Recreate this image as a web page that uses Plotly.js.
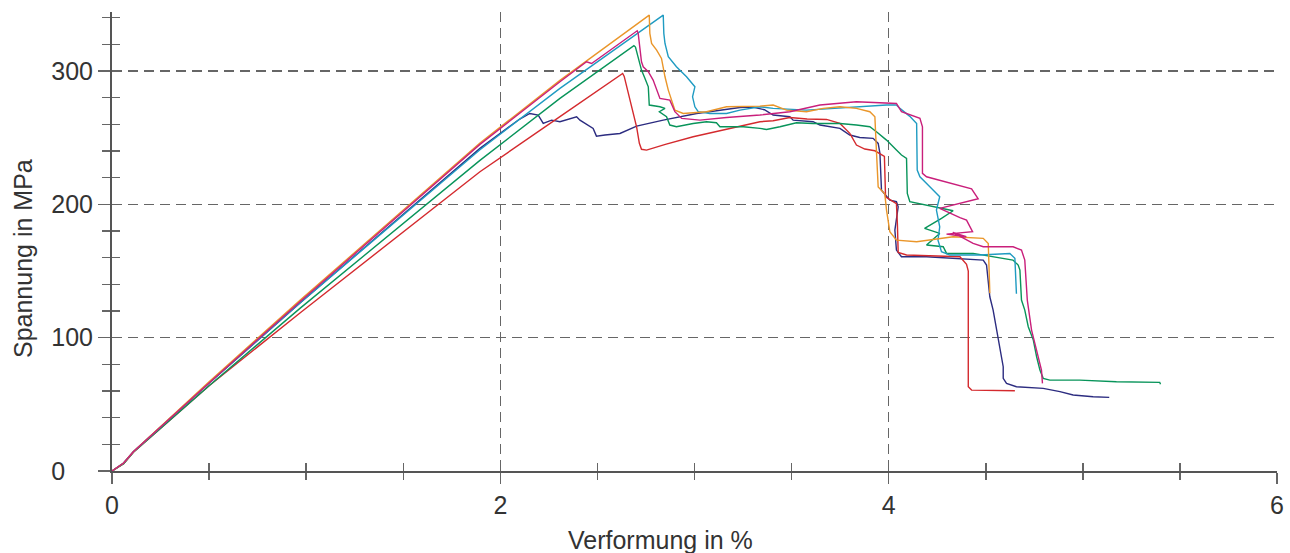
<!DOCTYPE html>
<html>
<head>
<meta charset="utf-8">
<script src="https://cdn.plot.ly/plotly-3.0.1.min.js"></script>
<style>html,body{margin:0;padding:0;background:#fff;}#chart{width:1290px;height:553px;}</style>
</head>
<body>
<div id="chart"></div>
<script>
// ---- data (strain in %, stress in MPa) ----
const redX = [0, 0.06, 0.11, 0.5, 0.968, 1.895, 2.307, 2.63, 2.638, 2.667, 2.681, 2.702, 2.716, 2.727, 2.753, 2.85, 2.993, 3.12, 3.234, 3.337, 3.405, 3.491, 3.58, 3.68, 3.749, 3.80, 3.834, 3.877, 3.929, 3.963, 3.978, 3.984, 4.04, 4.045, 4.049, 4.092, 4.367, 4.401, 4.41, 4.41, 4.427, 4.65];
const redY = [0, 5.5, 14, 64, 118.5, 224.5, 265.8, 298.2, 296, 278, 270.7, 258, 245.8, 241.3, 240.7, 245, 250.7, 255, 258.5, 262, 262.7, 265.2, 264, 263.7, 260.7, 253.3, 244.5, 241.5, 240.2, 237, 236, 205.7, 200.5, 185, 164, 162, 160.7, 155, 150, 63.2, 60.7, 60.2];

const orangeX = [0, 0.06, 0.11, 0.5, 0.968, 1.895, 2.307, 2.767, 2.770, 2.779, 2.805, 2.830, 2.848, 2.865, 2.882, 2.899, 2.942, 3.062, 3.165, 3.337, 3.405, 3.474, 3.577, 3.663, 3.749, 3.834, 3.903, 3.929, 3.937, 3.946, 3.98, 3.989, 4.006, 4.04, 4.144, 4.263, 4.332, 4.487, 4.513, 4.521];
const orangeY = [0, 6, 14.5, 67, 128, 246, 293, 342, 328.3, 320.7, 315.7, 309.5, 295.7, 285.7, 278.2, 270.7, 268.2, 269.5, 273.2, 273.7, 274.5, 270.7, 269.5, 272, 273.2, 272, 269.5, 265.7, 240, 213, 208, 195.7, 179.5, 173.2, 172, 174.5, 175.7, 174.5, 170.7, 133.3];

const magentaX = [0, 0.06, 0.11, 0.5, 0.968, 1.895, 2.307, 2.444, 2.47, 2.705, 2.710, 2.719, 2.727, 2.736, 2.762, 2.787, 2.813, 2.822, 2.873, 2.899, 2.934, 3.028, 3.165, 3.337, 3.491, 3.646, 3.834, 3.989, 4.04, 4.066, 4.161, 4.174, 4.174, 4.195, 4.427, 4.461, 4.263, 4.367, 4.401, 4.432, 4.298, 4.40, 4.33, 4.435, 4.487, 4.641, 4.684, 4.701, 4.714, 4.736, 4.77, 4.787, 4.792];
const magentaY = [0, 6, 14.5, 66, 127, 245, 292, 307, 305.7, 330.2, 328.3, 315.7, 307, 303.2, 299.5, 293.2, 282, 279.5, 278.2, 269.5, 264.5, 263.2, 265.2, 267, 269.5, 274.5, 277, 276.2, 275.7, 269.5, 264.5, 258.2, 223.3, 220.7, 211.7, 204.2, 197, 190, 188.2, 179.5, 177.7, 175.7, 179, 170.7, 168.2, 168.2, 165.7, 158.2, 128.2, 105.7, 85.7, 75.7, 65.7];

const cyanX = [0, 0.06, 0.11, 0.5, 0.968, 1.895, 2.307, 2.839, 2.842, 2.848, 2.865, 2.907, 2.959, 3.002, 2.990, 3.002, 3.019, 3.079, 3.165, 3.234, 3.337, 3.405, 3.577, 3.834, 3.989, 4.04, 4.058, 4.109, 4.144, 4.147, 4.161, 4.212, 4.263, 4.246, 4.263, 4.254, 4.272, 4.315, 4.47, 4.624, 4.65, 4.658];
const cyanY = [0, 6, 14.5, 66, 126, 241, 287, 342, 328.3, 320.7, 310.7, 303.2, 295.7, 288.2, 280.7, 273.2, 269.5, 268.2, 268.2, 270.7, 273.2, 272, 270.7, 273.2, 274.5, 274.5, 272, 266, 260.7, 225.7, 220.7, 213.2, 205.7, 195.7, 183.2, 173.2, 164.5, 162, 162, 163.2, 159.5, 133];

const greenX = [0, 0.06, 0.11, 0.5, 0.968, 1.895, 2.307, 2.688, 2.696, 2.710, 2.727, 2.745, 2.762, 2.767, 2.822, 2.848, 2.819, 2.856, 2.873, 2.907, 2.993, 3.062, 3.113, 3.131, 3.251, 3.337, 3.371, 3.44, 3.525, 3.611, 3.749, 3.834, 3.903, 3.937, 3.989, 4.04, 4.066, 4.092, 4.096, 4.109, 4.263, 4.332, 4.272, 4.185, 4.263, 4.195, 4.281, 4.298, 4.435, 4.573, 4.64, 4.667, 4.676, 4.684, 4.701, 4.719, 4.745, 4.762, 4.779, 4.796, 4.83, 4.984, 5.173, 5.396, 5.40];
const greenY = [0, 5.5, 14, 64, 122, 233, 279.5, 319, 318, 309.5, 300.7, 294.5, 288.2, 274.5, 273.2, 272, 269.5, 265.7, 259.5, 258.2, 260.7, 262, 261.2, 258.2, 258.2, 257, 256.2, 258.2, 261.2, 260.7, 260.7, 259.5, 258.2, 254.5, 248.2, 240.7, 237, 234.5, 208.2, 202, 197, 195.2, 189.5, 182, 178.2, 169.5, 168.2, 163.2, 163.2, 160.2, 158.2, 154.5, 150.7, 128.2, 120.7, 108.2, 98.2, 85.7, 75.7, 69.5, 68.2, 68.2, 67, 66.5, 65];

const navyX = [0, 0.06, 0.11, 0.5, 0.968, 1.895, 2.10, 2.152, 2.195, 2.221, 2.264, 2.307, 2.393, 2.41, 2.478, 2.495, 2.539, 2.616, 2.702, 2.839, 3.011, 3.234, 3.30, 3.36, 3.405, 3.491, 3.508, 3.611, 3.646, 3.697, 3.749, 3.80, 3.851, 3.92, 3.946, 3.955, 3.963, 4.006, 4.04, 4.049, 4.032, 4.04, 4.066, 4.195, 4.367, 4.487, 4.504, 4.521, 4.538, 4.555, 4.572, 4.59, 4.59, 4.607, 4.658, 4.796, 4.882, 4.95, 5.053, 5.136];
const navyY = [0, 6, 14.5, 66, 126, 242, 264, 268.2, 267, 260.7, 263.2, 262, 265.7, 263.2, 257, 251.2, 252, 253.2, 258.7, 263.2, 268.2, 272.7, 273, 271, 267, 265.7, 263.2, 262, 259.5, 258.2, 257, 252, 250.2, 249.5, 245.7, 238.2, 210.7, 203.2, 202, 198.2, 180.7, 165.7, 160.7, 160.7, 159.5, 158.2, 154.5, 130.7, 120.7, 105.7, 93.2, 78.2, 69.5, 65.7, 63.2, 62, 59.5, 57, 55.7, 55.2];

const xTickVals = [0, 2, 4, 6];
const xTickText = ['0', '2', '4', '6'];
const yTickVals = [0, 100, 200, 300];
const yTickText = ['0\u00A0\u00A0\u00A0\u00A0', '100', '200', '300'];

const xTitle = 'Verformung in %';
const yTitle = 'Spannung in MPa';

// ---- chart ----
const series = [
  {x: navyX, y: navyY, c: '#2c2c80'},
  {x: redX, y: redY, c: '#d42a2e'},
  {x: greenX, y: greenY, c: '#08945a'},
  {x: cyanX, y: cyanY, c: '#1f9bc2'},
  {x: orangeX, y: orangeY, c: '#ea962a'},
  {x: magentaX, y: magentaY, c: '#c91f7b'}
];
const traces = series.map(s => ({
  type: 'scatter', mode: 'lines', x: s.x, y: s.y,
  line: {color: s.c, width: 1.4}, hoverinfo: 'skip', showlegend: false
}));
// empty trace to host the overlay axes (inner half of crossing ticks)
traces.push({type: 'scatter', mode: 'lines', x: [], y: [], xaxis: 'x2', yaxis: 'y2', showlegend: false, hoverinfo: 'skip'});

const FONT = 'Liberation Sans, Arial, sans-serif';
const FS = 25;
const XR = [0, 6], YR = [0, 344.3];
const layout = {
  width: 1290, height: 553,
  margin: {l: 112, r: 13, t: 12, b: 82},
  paper_bgcolor: '#ffffff', plot_bgcolor: '#ffffff',
  font: {family: FONT, size: FS, color: '#333333'},
  xaxis: {
    range: XR, autorange: false,
    tickmode: 'array', tickvals: xTickVals, ticktext: xTickText,
    ticks: 'outside', ticklen: 11, tickwidth: 1.5, tickcolor: '#666666',
    minor: {dtick: 0.5, ticks: 'outside', ticklen: 7, tickwidth: 1.5, tickcolor: '#666666', showgrid: false},
    showline: true, linecolor: '#555555', linewidth: 2,
    showgrid: true, gridcolor: '#666666', gridwidth: 1.2, griddash: '10px,6px',
    zeroline: false, ticklabelstandoff: 0,
    tickfont: {family: FONT, size: FS, color: '#333333'}
  },
  yaxis: {
    range: YR, autorange: false,
    tickmode: 'array', tickvals: yTickVals, ticktext: yTickText,
    ticks: 'outside', ticklen: 12, tickwidth: 1.5, tickcolor: '#666666',
    minor: {dtick: 20, ticks: 'outside', ticklen: 8, tickwidth: 1.5, tickcolor: '#666666', showgrid: false},
    showline: true, linecolor: '#555555', linewidth: 2,
    showgrid: true, gridcolor: '#666666', gridwidth: 1.2, griddash: '10px,6px',
    zeroline: false, ticklabelstandoff: 0,
    tickfont: {family: FONT, size: FS, color: '#333333'}
  },
  xaxis2: {
    overlaying: 'x', anchor: 'y2', side: 'bottom', range: XR, autorange: false,
    tick0: 0, dtick: 0.5, ticks: 'inside', ticklen: 8, tickwidth: 1.5, tickcolor: '#666666',
    showticklabels: false, showgrid: false, showline: false, zeroline: false
  },
  yaxis2: {
    overlaying: 'y', anchor: 'x2', side: 'left', range: YR, autorange: false,
    tick0: 0, dtick: 20, ticks: 'inside', ticklen: 8, tickwidth: 1.5, tickcolor: '#666666',
    showticklabels: false, showgrid: false, showline: false, zeroline: false
  },
  annotations: [
    {text: xTitle, xref: 'paper', yref: 'paper', x: 0.4704, y: -0.150, xanchor: 'center', yanchor: 'middle',
     showarrow: false, font: {family: FONT, size: FS, color: '#333333'}},
    {text: yTitle, xref: 'paper', yref: 'paper', x: -0.0764, y: 0.464, xanchor: 'center', yanchor: 'middle',
     textangle: -90, showarrow: false, font: {family: FONT, size: FS, color: '#333333'}}
  ]
};

Plotly.newPlot('chart', traces, layout, {staticPlot: true, displayModeBar: false});
</script>
</body>
</html>
